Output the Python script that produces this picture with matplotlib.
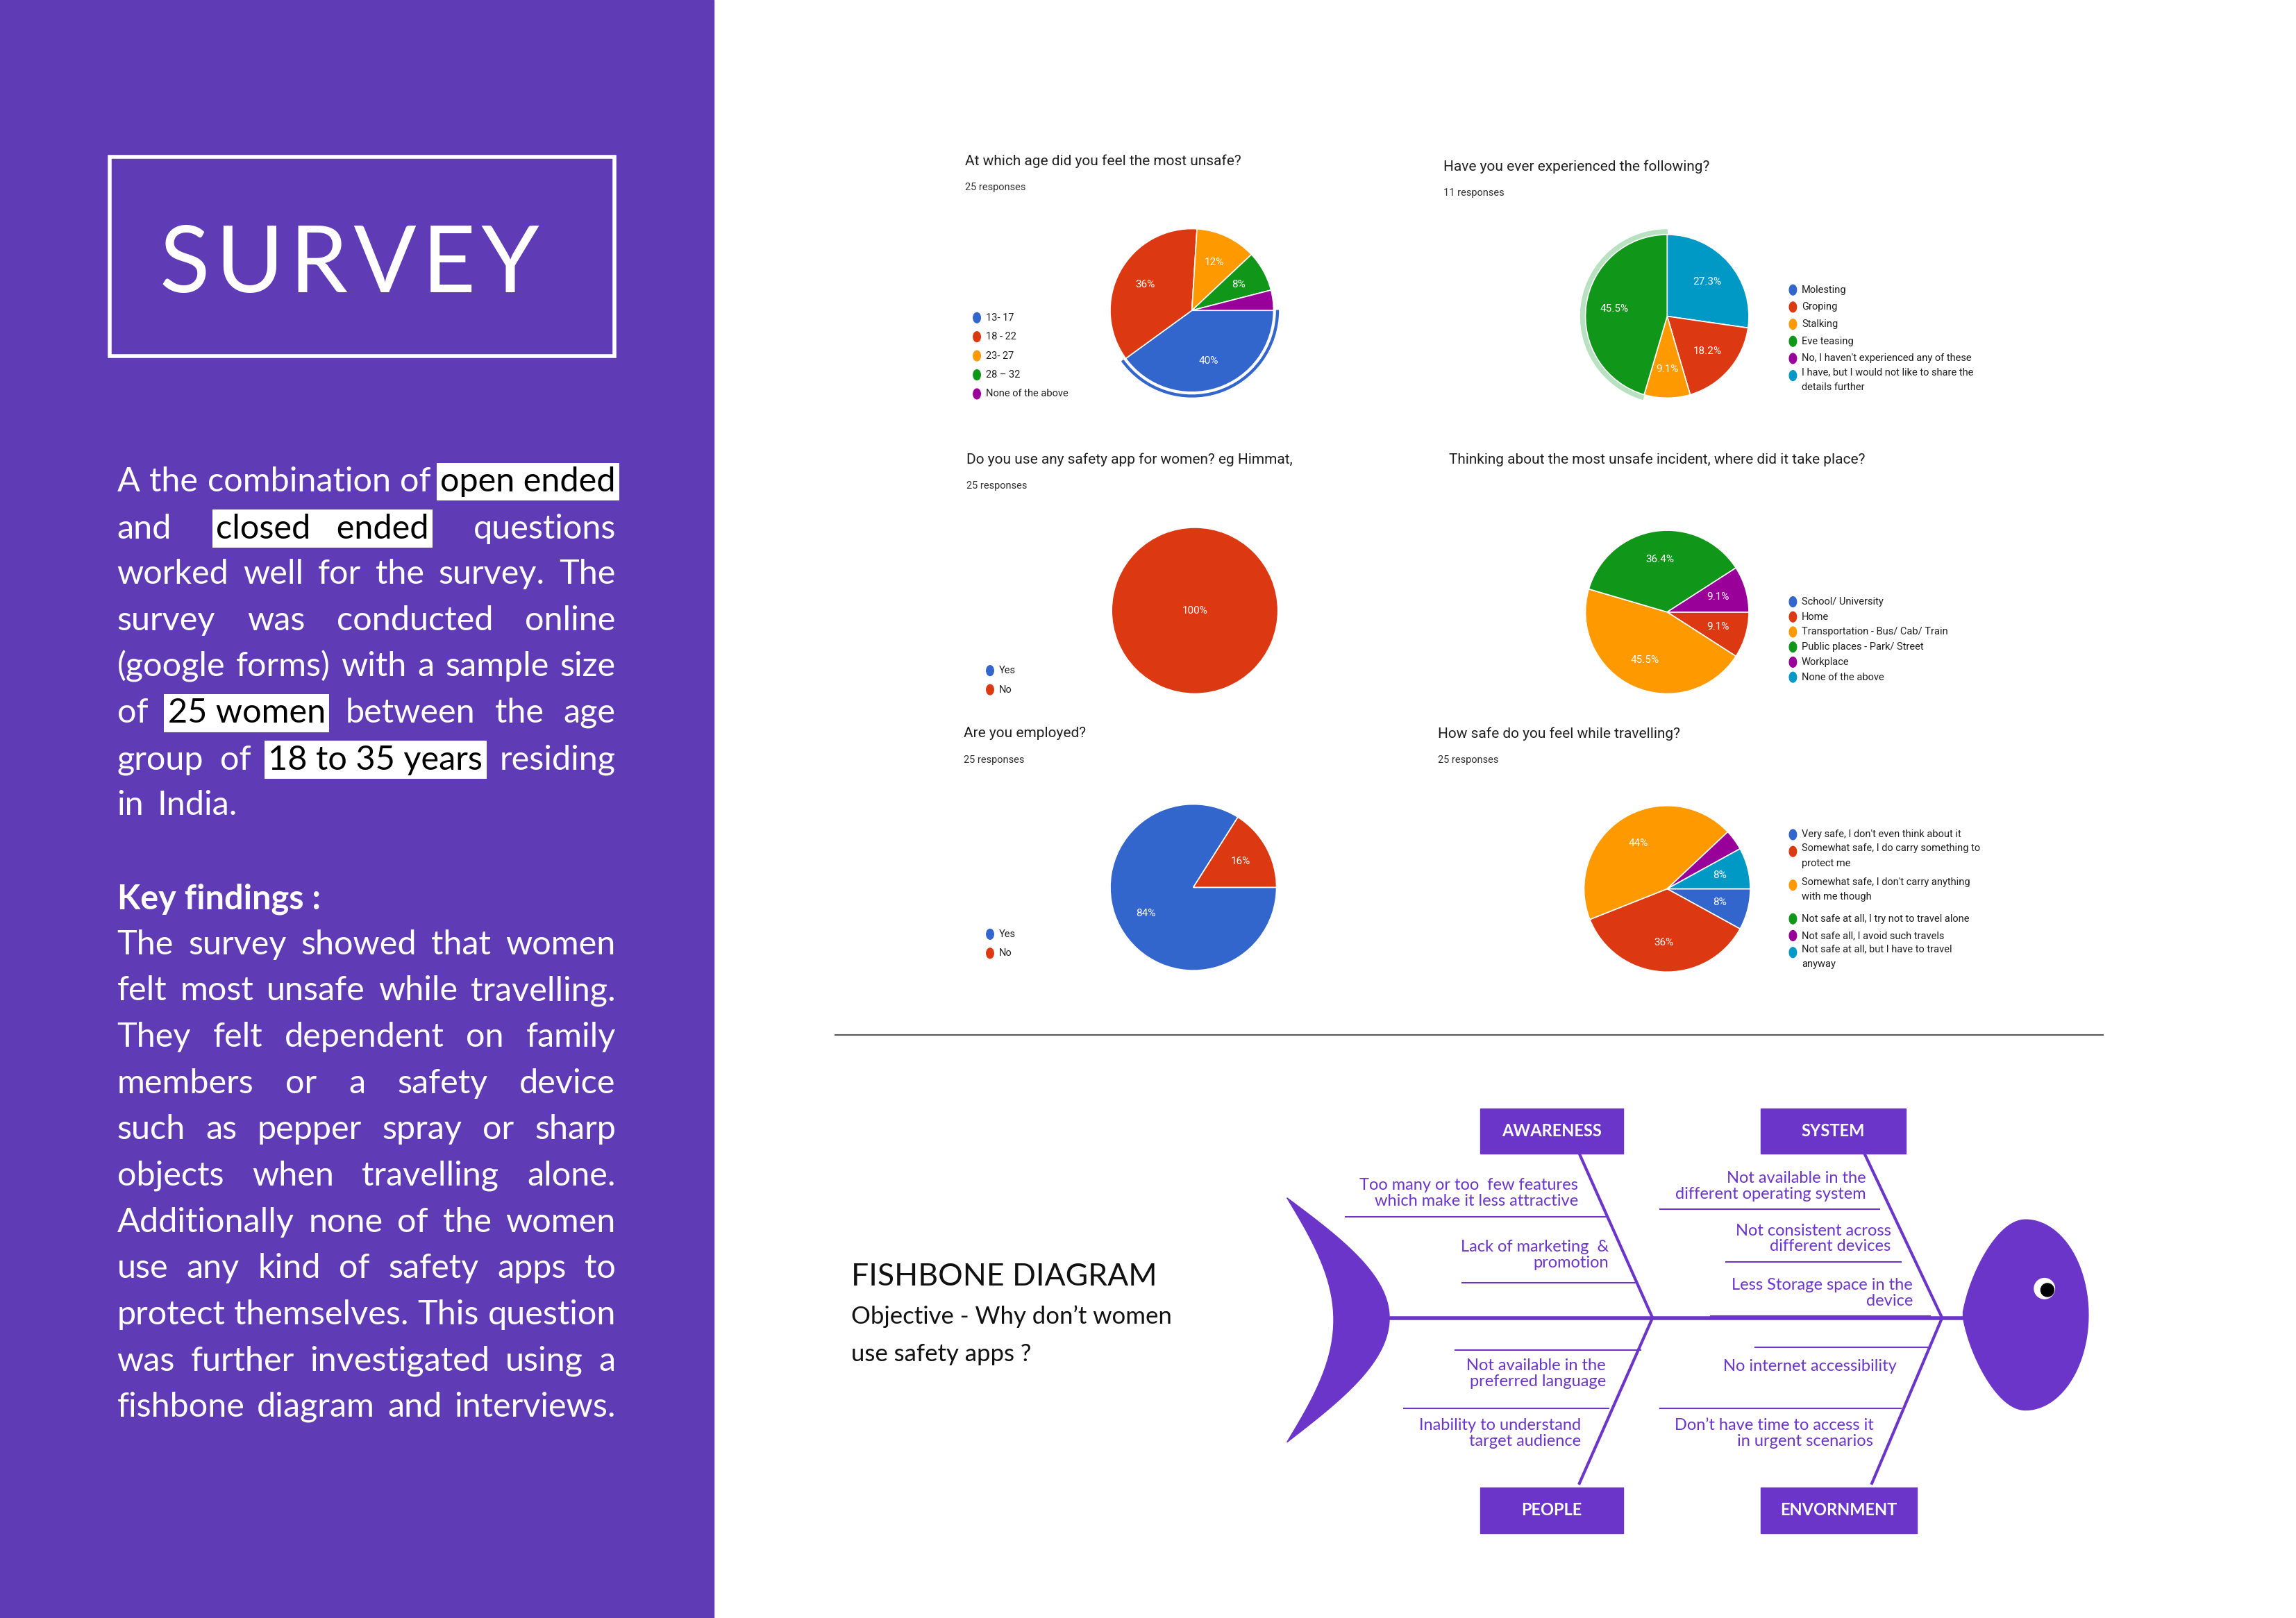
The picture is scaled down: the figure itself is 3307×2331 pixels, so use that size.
import matplotlib
matplotlib.use("Agg")
import matplotlib.pyplot as plt
from matplotlib.patches import Rectangle, Polygon, Ellipse, Wedge
import numpy as np

W, H = 1570, 1105
PURPLE = '#5f3bb6'
FPURP = '#6c35c9'
GC = ['#3366CC', '#DC3912', '#FF9900', '#109618', '#990099', '#0099C6']

# ---- data ----
age_labels = ['13- 17', '18 - 22', '23- 27', '28 – 32', 'None of the above']
age_vals = [40, 36, 12, 8, 4]
exp_labels = ['Molesting', 'Groping', 'Stalking', 'Eve teasing',
              "No, I haven't experienced any of these",
              'I have, but I would not like to share the\ndetails further']
exp_vals = [0, 18.2, 9.1, 45.5, 0, 27.3]
app_labels = ['Yes', 'No']
app_vals = [0, 100]
place_labels = ['School/ University', 'Home', 'Transportation - Bus/ Cab/ Train',
                'Public places - Park/ Street', 'Workplace', 'None of the above']
place_vals = [0, 9.1, 45.5, 36.4, 9.1, 0]
emp_labels = ['Yes', 'No']
emp_vals = [84, 16]
trav_labels = ["Very safe, I don't even think about it",
               'Somewhat safe, I do carry something to\nprotect me',
               "Somewhat safe, I don't carry anything\nwith me though",
               'Not safe at all, I try not to travel alone',
               'Not safe all, I avoid such travels',
               'Not safe at all, but I have to travel\nanyway']
trav_vals = [8, 36, 44, 0, 4, 8]

fig = plt.figure(figsize=(33.07, 23.31), dpi=100)
ax = fig.add_axes([0, 0, 1, 1])
ax.set_xlim(0, W); ax.set_ylim(H, 0); ax.axis('off')
FONT = 'Lato'

# ---- left panel ----
ax.add_patch(Rectangle((0, 0), 488, H, color=PURPLE, zorder=0))
ax.add_patch(Rectangle((75, 107), 345, 136, fill=False, ec='white', lw=4))
ax.text(239, 182, 'S U R V E Y'.replace(' ', '\u200a'), color='white', fontsize=96,
        family=FONT, ha='center', va='center')

fig.canvas.draw()
R = fig.canvas.get_renderer()
PX = W / 3307

def wline(items, y, x0=80, x1=421, fs=35, justify=True, bold=False):
    ts = []
    for s, hl in items:
        kw = dict(fontsize=fs, family=FONT, va='center', ha='left',
                  weight='bold' if bold else 'normal')
        if hl:
            t = ax.text(0, y, s, color='black',
                        bbox=dict(fc='white', ec='none', pad=4), **kw)
        else:
            t = ax.text(0, y, s, color='white', **kw)
        ts.append(t)
    ws = [t.get_window_extent(R).width * PX for t in ts]
    if justify and len(ts) > 1:
        gap = (x1 - x0 - sum(ws)) / (len(ts) - 1)
    else:
        gap = 9
    x = x0
    for t, w in zip(ts, ws):
        t.set_x(x); x += w + gap

def words(s):
    return [(w, False) for w in s.split()]

para1 = [
    (words('A the combination of') + [('open ended', True)], 329),
    ([('and', False), ('closed   ended', True), ('questions', False)], 361),
    (words('worked well for the survey. The'), 392),
    (words('survey was conducted online'), 424),
    (words('(google forms) with a sample size'), 455),
    ([('of', False), ('25 women', True)] + words('between the age'), 487),
    (words('group of') + [('18 to 35 years', True), ('residing', False)], 519),
]
for it, y in para1:
    wline(it, y)
wline(words('in India.'), 550, justify=False)
wline([('Key findings :', False)], 614, justify=False, bold=True)
para2 = ['The survey showed that women', 'felt most unsafe while travelling.',
         'They felt dependent on family', 'members or a safety device',
         'such as pepper spray or sharp', 'objects when travelling alone.',
         'Additionally none of the women', 'use any kind of safety apps to',
         'protect themselves. This question', 'was further investigated using a',
         'fishbone diagram and interviews.']
for i, s in enumerate(para2):
    wline(words(s), 645 + i * 31.6)

# ---- pies ----
def pie(cx, cy, r, vals, order, start, title, resp, tx, ty, labels, lx, ly, lstep, ring=None):
    pa = fig.add_axes([(cx - r) / W, 1 - (cy + r) / H, 2 * r / W, 2 * r / H])
    pa.set_aspect('equal'); pa.axis('off')
    v = [vals[i] for i in order]
    c = [GC[i] for i in order]
    pct = [f'{x:g}%' if x >= 5 else '' for x in v]
    wedges, txts = pa.pie(v, colors=c, startangle=start, counterclock=False,
                          wedgeprops=dict(ec='white', lw=1.2), radius=1,
                          labels=pct, labeldistance=0.65)
    for t in txts:
        t.set_color('white'); t.set_fontsize(11); t.set_family('Roboto')
        t.set_ha('center'); t.set_va('center')
    if len(v) == 1:
        txts[0].set_position((0, 0))
    if ring is not None:
        w = wedges[order.index(ring[0])]
        pa.add_patch(Wedge((0, 0), 1.06, w.theta1, w.theta2, width=ring[2],
                           color=ring[1], zorder=0, clip_on=False))
    pa.set_xlim(-1.02, 1.02); pa.set_ylim(-1.02, 1.02)
    ax.text(tx, ty, title, fontsize=15, family='Roboto', color='#202020', va='center')
    if resp:
        ax.text(tx, ty + 18, resp, fontsize=10.5, family='Roboto', color='#333333', va='center')
    y = ly
    for i, lab in enumerate(labels):
        ax.add_patch(Ellipse((lx, y), 5, 7, color=GC[i]))
        ml = '\n' in lab
        ax.text(lx + 6, y - (5.5 if ml else 0), lab, fontsize=10.5, family='Roboto',
                color='#202020', va='top' if ml else 'center', linespacing=1.7)
        y += lstep * (lab.count('\n') + 1)

pie(815, 212, 57, age_vals, [0, 1, 2, 3, 4], 0, 'At which age did you feel the most unsafe?',
    '25 responses', 660, 110, age_labels, 668, 217, 13, ring=(0, '#3366CC', 0.025))
pie(1140, 216, 57, exp_vals, [5, 1, 2, 3], 90, 'Have you ever experienced the following?',
    '11 responses', 987, 114, exp_labels, 1226, 198, 11.7, ring=(3, '#b7e1c1', 0.09))
pie(817, 417, 58, app_vals, [1], 90, 'Do you use any safety app for women? eg Himmat,',
    '25 responses', 661, 314, app_labels, 677, 458, 13)
pie(1140, 418, 57, place_vals, [1, 2, 3, 4], 0, 'Thinking about the most unsafe incident, where did it take place?',
    None, 991, 314, place_labels, 1226, 411, 10.3)
pie(816, 606, 58, emp_vals, [0, 1], 0, 'Are you employed?',
    '25 responses', 659, 501, emp_labels, 677, 638, 13)
pie(1140, 607, 58, trav_vals, [0, 1, 2, 4, 5], 0, 'How safe do you feel while travelling?',
    '25 responses', 983, 501, trav_labels, 1226, 570, 11.5)

# ---- divider ----
ax.plot([571, 1438], [707, 707], color='#555555', lw=1.5)

# ---- fishbone ----
ax.text(582, 872, 'FISHBONE DIAGRAM', fontsize=32, family=FONT, color='#111111', va='center')
ax.text(582, 899, 'Objective - Why don\u2019t women', fontsize=25, family=FONT, color='#111111', va='center')
ax.text(582, 925, 'use safety apps ?', fontsize=25, family=FONT, color='#111111', va='center')

s = np.linspace(0, 1, 40)
inner = np.c_[880 + 32 * np.sin(np.pi * s), 985 - 167 * s]
outer_top = np.c_[880 + 70 * np.sin(np.pi / 2 * s), 818 + 82 * s]
outer_bot = np.c_[950 - 70 * (1 - np.cos(np.pi / 2 * s)), 900 + 85 * s]
tailpts = np.vstack([outer_top, outer_bot, inner])
ax.add_patch(Polygon(tailpts, closed=True, color=FPURP))
ax.plot([948, 1345], [900, 900], color=FPURP, lw=4)
th = np.linspace(0, 2 * np.pi, 100)
hx = 1385 + 43 * np.cos(th) * np.where(np.cos(th) < 0, 1.0 - 0.25 * np.abs(np.sin(th)), 1.0)
hy = 898 + 65 * np.sin(th)
ax.add_patch(Polygon(np.c_[hx, hy], closed=True, color=FPURP))
ax.add_patch(Ellipse((1398, 880), 14, 14, color='white'))
ax.add_patch(Ellipse((1400, 881), 9, 9, color='black'))

for (x0, y0, x1, y1) in [(1080, 788, 1130, 900), (1275, 788, 1328, 900),
                         (1130, 900, 1080, 1013), (1328, 900, 1280, 1013)]:
    ax.plot([x0, x1], [y0, y1], color=FPURP, lw=3)
for (x, y, w, h, s_) in [(1012, 757, 98, 31, 'AWARENESS'), (1204, 757, 99, 31, 'SYSTEM'),
                         (1012, 1016, 98, 31, 'PEOPLE'), (1204, 1016, 107, 31, 'ENVORNMENT')]:
    ax.add_patch(Rectangle((x, y), w, h, color=FPURP))
    ax.text(x + w / 2, y + h / 2, s_, color='white', fontsize=17, weight='bold',
            family=FONT, ha='center', va='center')

subs = [
    ('Too many or too  few features\nwhich make it less attractive', 1079, 815, 920, 1099, 831),
    ('Lack of marketing  &\npromotion', 1100, 857, 1000, 1118, 876),
    ('Not available in the\ndifferent operating system', 1276, 810, 1135, 1285, 826),
    ('Not consistent across\ndifferent devices', 1293, 846, 1180, 1300, 862),
    ('Less Storage space in the\ndevice', 1308, 883, 1170, 1320, 899),
    ('Not available in the\npreferred language', 1098, 938, 995, 1122, 922),
    ('Inability to understand\ntarget audience', 1081, 979, 960, 1100, 962),
    ('No internet accessibility', 1297, 933, 1200, 1320, 920),
    ('Don\u2019t have time to access it\nin urgent scenarios', 1281, 979, 1135, 1300, 962),
]
for s_, tx, ty, lx0, lx1, ly in subs:
    ax.text(tx, ty, s_, color=FPURP, fontsize=17, family=FONT, ha='right', va='center',
            multialignment='right', linespacing=1.1)
    ax.plot([lx0, lx1], [ly, ly], color=FPURP, lw=1.5)

fig.savefig('out.png', dpi=100)
